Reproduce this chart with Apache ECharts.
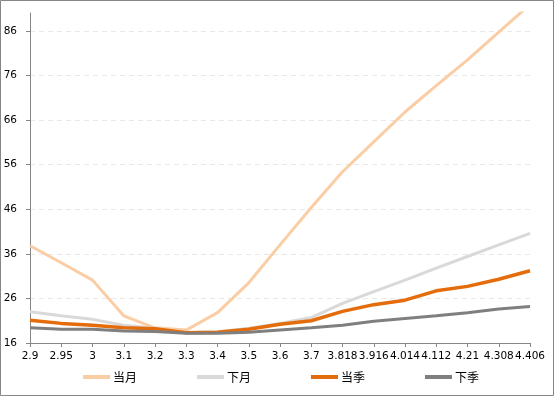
<!DOCTYPE html>
<html><head><meta charset="utf-8">
<script src="https://cdn.jsdelivr.net/npm/echarts@6/dist/echarts.min.js"></script>
<style>html,body{margin:0;padding:0;background:#fff}#c{width:554px;height:396px}</style>
</head><body><div id="c"></div>
<script>
var categories = ['2.9','2.95','3','3.1','3.2','3.3','3.4','3.5','3.6','3.7','3.818','3.916','4.014','4.112','4.21','4.308','4.406'];
var dangYue = [37.8,34.0,30.1,22.1,19.4,18.9,22.8,29.5,38.0,46.4,54.4,61.1,67.8,73.7,79.5,85.7,91.9];
var xiaYue  = [23.0,22.1,21.3,20.0,19.3,18.3,18.5,19.3,20.4,21.7,24.9,27.5,30.1,32.8,35.4,38.0,40.6];
var dangJi  = [21.1,20.4,20.0,19.4,19.2,18.3,18.4,19.1,20.2,21.0,23.1,24.6,25.6,27.7,28.7,30.3,32.2];
var xiaJi   = [19.4,19.1,19.1,18.7,18.6,18.2,18.2,18.4,18.9,19.4,20.0,20.9,21.5,22.1,22.8,23.6,24.2];
var yTicks = [16,26,36,46,56,66,76,86];
var seriesNames = ['当月','下月','当季','下季'];

var chart = echarts.init(document.getElementById('c'), null, {renderer:'canvas'});
var font = 'DejaVu Sans';
function line(name, data, color, width){
  return {name:name, type:'line', data:data, showSymbol:false, symbol:'none', clip:true,
    lineStyle:{color:color, width:width}, itemStyle:{color:color}, emphasis:{disabled:true}};
}
chart.setOption({
  animation:false,
  graphic:[{type:'rect', shape:{x:0.5,y:0.5,width:553,height:395}, style:{fill:'none', stroke:'#868686', lineWidth:1}, silent:true}],
  grid:{left:30, right:24, top:13, bottom:53},
  legend:{left:83, top:371, padding:0, itemWidth:27, itemHeight:4, itemGap:60, icon:'rect',
    textStyle:{fontFamily:'Noto Sans CJK SC', fontSize:12, color:'#000', padding:[0,0,0,-2]},
    data:seriesNames},
  xAxis:{type:'category', data:categories, boundaryGap:false,
    axisLine:{lineStyle:{color:'#868686'}},
    axisTick:{show:true, alignWithLabel:true, length:4, lineStyle:{color:'#868686'}},
    axisLabel:{interval:0, fontFamily:font, fontSize:10.5, color:'#000', margin:8}},
  yAxis:{type:'value', min:16, max:90, interval:10,
    axisLine:{show:true, lineStyle:{color:'#868686'}},
    axisTick:{show:true, length:4, lineStyle:{color:'#868686'}, customValues:yTicks},
    axisLabel:{fontFamily:font, fontSize:10.5, color:'#000', margin:13, customValues:yTicks},
    splitLine:{show:true, showMinLine:false, lineStyle:{color:'#E8E8E8', type:[5,4]}}},
  series:[
    line(seriesNames[0], dangYue, '#FBCDA5', 3),
    line(seriesNames[1], xiaYue, '#D9D9D9', 3),
    line(seriesNames[2], dangJi, '#E46C0A', 3.5),
    line(seriesNames[3], xiaJi, '#7F7F7F', 3)
  ]
});
</script></body></html>
